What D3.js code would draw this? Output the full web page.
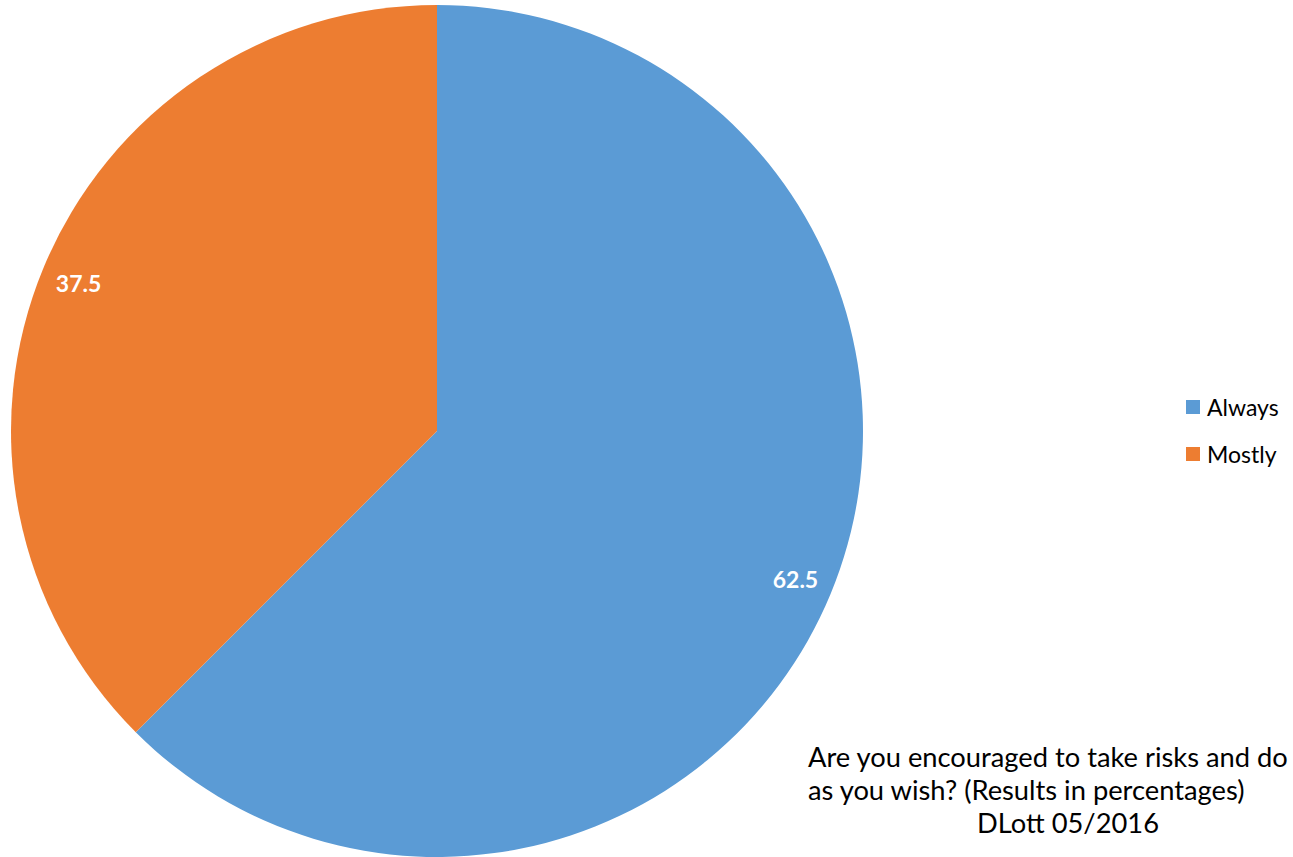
<!DOCTYPE html>
<html><head><meta charset="utf-8">
<script src="https://cdn.jsdelivr.net/npm/d3@7"></script>
<style>body{margin:0;background:#fff}svg{display:block}</style>
</head><body>
<svg id="c" width="1293" height="857"></svg>
<script>
const categories = ["Always", "Mostly"];
const values = [62.5, 37.5];
const colors = ["#5B9BD5", "#ED7D31"];
const titleLines = ["Are you encouraged to take risks and do", "as you wish? (Results in percentages)", "DLott 05/2016"];

const svg = d3.select("#c");
const cx = 437, cy = 431, R = 426;
const font = "Lato, 'Open Sans', sans-serif";

const pie = d3.pie().sort(null).value(d => d)(values);
const arc = d3.arc().innerRadius(0).outerRadius(R);
const labelArc = d3.arc().innerRadius(388).outerRadius(388);
const g = svg.append("g").attr("transform", `translate(${cx},${cy})`);
g.selectAll("path").data(pie).join("path")
  .attr("d", arc).attr("fill", (d, i) => colors[i]);
g.selectAll("text").data(pie).join("text")
  .attr("transform", d => `translate(${labelArc.centroid(d)})`)
  .attr("text-anchor", "middle").attr("dominant-baseline", "central")
  .attr("font-family", font).attr("font-weight", "bold").attr("font-size", 23)
  .attr("fill", "#fff").text(d => d.data);

const leg = svg.append("g");
categories.forEach((c, i) => {
  const y = 407 + i * 47;
  leg.append("rect").attr("x", 1186).attr("y", y - 7).attr("width", 14).attr("height", 14).attr("fill", colors[i]);
  leg.append("text").attr("x", 1207).attr("y", y).attr("dominant-baseline", "central")
    .attr("font-family", font).attr("font-size", 23).attr("fill", "#000").text(c);
});

const t = svg.append("g").attr("font-family", font).attr("font-size", 27.3).attr("fill", "#000");
t.append("text").attr("x", 808).attr("y", 767).text(titleLines[0]);
t.append("text").attr("x", 808).attr("y", 800).text(titleLines[1]);
t.append("text").attr("x", 977).attr("y", 833).text(titleLines[2]);
</script>
</body></html>
